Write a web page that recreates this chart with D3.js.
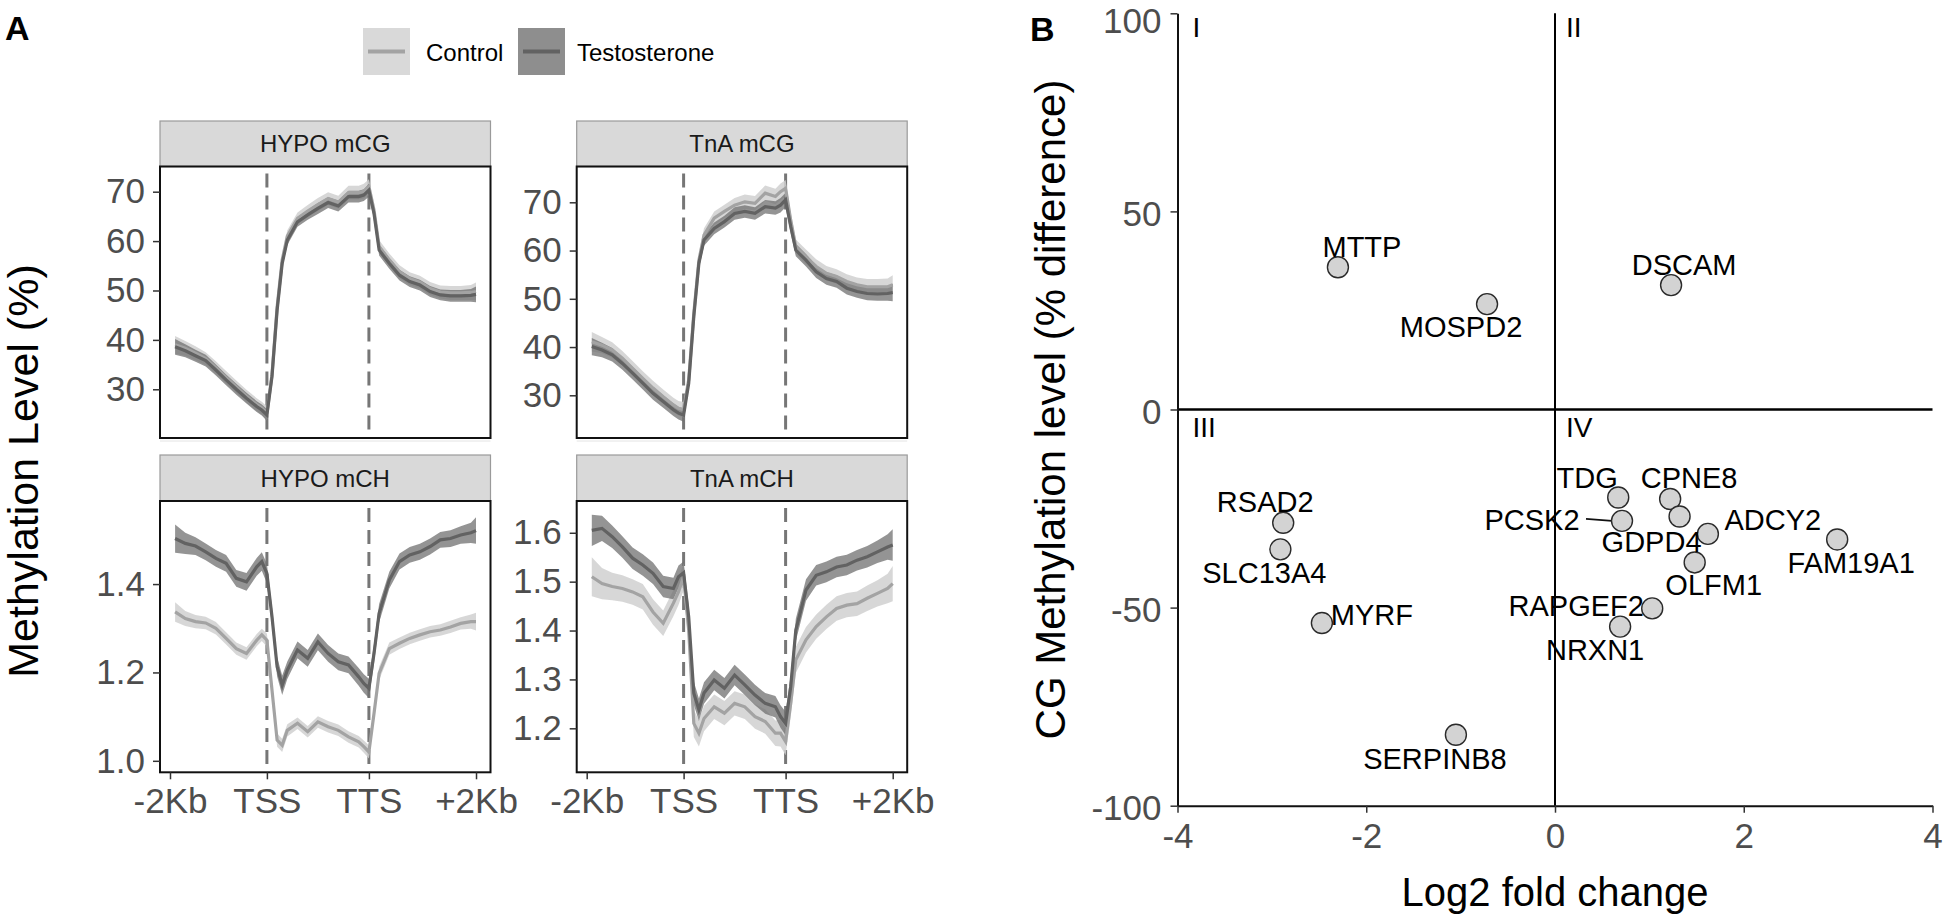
<!DOCTYPE html>
<html><head><meta charset="utf-8">
<script src="https://cdn.jsdelivr.net/npm/d3@7"></script>
<style>
body{margin:0;background:#fff;}
svg{display:block;}
text{font-family:"Liberation Sans",Arial,Helvetica,sans-serif;}
</style>
</head><body>
<svg id="chart" width="1946" height="918"></svg>
<script>
// ---------------- DATA: panel A (metaplots) ----------------
const seriesNames = ["Control", "Testosterone"];
const facetNames = ["HYPO mCG", "TnA mCG", "HYPO mCH", "TnA mCH"];
const binPositions = [2,4,6,8,10,12,14,16,18,19,20,21,22,23,24,26,28,30,32,34,36,38,39,40,41,42,44,46,48,50,52,54,56,58,60,61];
const xTickBins = [1, 20, 40, 61];
const xTickLabels = ["-2Kb", "TSS", "TTS", "+2Kb"];
const boundaryBins = [20, 40];
const cgTicks = [30, 40, 50, 60, 70];
const hypoChTicks = [1.0, 1.2, 1.4];
const tnaChTicks = [1.2, 1.3, 1.4, 1.5, 1.6];

const hypoCG_control = [39.0,38.3,37.3,36.2,34.4,32.4,30.5,28.6,26.9,26.2,25.1,33.0,46.6,56.2,61.0,64.6,66.1,67.4,68.6,67.9,69.8,69.8,70.1,71.0,66.3,58.9,56.2,53.8,52.4,51.7,50.4,49.7,49.5,49.5,49.6,49.8];
const hypoCG_testosterone = [38.6,37.8,36.8,35.8,33.9,31.9,30.0,28.2,26.5,25.8,24.8,32.6,46.0,55.5,60.2,63.9,65.3,66.6,67.8,67.1,69.0,69.0,69.3,70.3,65.6,58.2,55.5,53.1,51.8,51.1,49.8,49.1,48.9,48.9,49.0,49.2];
const tnaCG_control = [41.1,40.4,39.4,37.7,35.6,33.5,31.5,29.7,28.0,27.3,27.0,33.2,47.0,58.0,63.2,66.7,68.1,69.4,70.1,69.8,71.9,71.2,72.2,72.9,66.3,60.8,58.7,56.7,55.3,54.6,53.6,52.9,52.5,52.5,52.5,52.9];
const tnaCG_testosterone = [40.1,39.4,38.4,36.6,34.6,32.5,30.4,28.7,27.0,26.3,25.9,32.5,46.3,57.4,62.2,64.6,66.0,67.7,68.1,67.7,69.1,68.8,69.4,70.5,65.0,60.1,58.0,55.6,54.2,53.6,52.2,51.5,51.1,51.0,51.1,51.3];
const hypoCH_control = [1.337,1.322,1.315,1.312,1.300,1.277,1.254,1.243,1.273,1.285,1.273,1.160,1.047,1.035,1.069,1.085,1.066,1.088,1.077,1.069,1.054,1.043,1.032,1.020,1.107,1.198,1.254,1.266,1.277,1.285,1.292,1.296,1.303,1.311,1.315,1.315];
const hypoCH_testosterone = [1.503,1.492,1.486,1.473,1.458,1.447,1.413,1.405,1.439,1.451,1.424,1.326,1.213,1.171,1.205,1.251,1.232,1.269,1.243,1.224,1.217,1.190,1.175,1.164,1.243,1.334,1.409,1.451,1.466,1.473,1.485,1.500,1.503,1.511,1.516,1.521];
const tnaCH_control = [1.510,1.496,1.490,1.486,1.479,1.469,1.438,1.415,1.456,1.479,1.510,1.401,1.210,1.190,1.220,1.244,1.231,1.251,1.244,1.224,1.214,1.190,1.190,1.173,1.251,1.340,1.381,1.408,1.428,1.445,1.452,1.455,1.466,1.476,1.486,1.496];
const tnaCH_testosterone = [1.605,1.609,1.592,1.571,1.548,1.534,1.517,1.490,1.486,1.510,1.518,1.428,1.272,1.238,1.272,1.299,1.282,1.309,1.289,1.268,1.251,1.244,1.224,1.210,1.285,1.401,1.483,1.513,1.520,1.530,1.534,1.544,1.551,1.561,1.571,1.575];

// ribbon half-widths (standard error)
const hypoCG_control_se = [1.8,1.5,1.4,1.3,1.3,1.3,1.3,1.3,1.3,1.3,1.4,1.3,1.2,1.2,1.2,1.2,1.2,1.3,1.3,1.3,1.4,1.4,1.5,1.5,1.4,1.3,1.3,1.3,1.3,1.3,1.3,1.3,1.4,1.4,1.5,1.8];
const hypoCG_testosterone_se = [1.6,1.3,1.2,1.2,1.1,1.1,1.1,1.1,1.1,1.1,1.2,1.1,1.0,1.0,1.0,1.0,1.0,1.1,1.1,1.1,1.2,1.2,1.2,1.3,1.2,1.1,1.1,1.1,1.1,1.1,1.1,1.1,1.2,1.2,1.3,1.6];
const tnaCG_control_se = [2.0,1.7,1.6,1.5,1.5,1.5,1.5,1.5,1.5,1.5,1.6,1.5,1.4,1.4,1.4,1.4,1.4,1.5,1.5,1.5,1.6,1.6,1.7,1.7,1.6,1.5,1.5,1.5,1.5,1.5,1.5,1.5,1.6,1.6,1.7,2.0];
const tnaCG_testosterone_se = [1.8,1.5,1.4,1.3,1.3,1.3,1.3,1.3,1.3,1.3,1.4,1.3,1.2,1.2,1.2,1.2,1.2,1.3,1.3,1.3,1.4,1.4,1.5,1.5,1.4,1.3,1.3,1.3,1.3,1.3,1.3,1.3,1.4,1.4,1.5,1.8];
const hypoCH_control_se = [0.022,0.017,0.015,0.014,0.014,0.014,0.014,0.014,0.014,0.014,0.015,0.015,0.015,0.015,0.014,0.013,0.013,0.013,0.013,0.013,0.013,0.013,0.014,0.015,0.015,0.015,0.014,0.013,0.013,0.013,0.013,0.013,0.014,0.014,0.016,0.020];
const hypoCH_testosterone_se = [0.032,0.024,0.020,0.019,0.019,0.019,0.019,0.020,0.020,0.021,0.022,0.022,0.022,0.022,0.020,0.019,0.019,0.019,0.019,0.019,0.019,0.020,0.021,0.022,0.022,0.021,0.019,0.018,0.018,0.018,0.018,0.018,0.019,0.020,0.023,0.030];
const tnaCH_control_se = [0.040,0.032,0.028,0.027,0.026,0.026,0.026,0.026,0.027,0.027,0.028,0.028,0.028,0.027,0.026,0.025,0.025,0.025,0.025,0.025,0.025,0.026,0.027,0.028,0.028,0.027,0.026,0.025,0.025,0.025,0.025,0.025,0.026,0.027,0.030,0.036];
const tnaCH_testosterone_se = [0.032,0.026,0.023,0.022,0.022,0.022,0.022,0.022,0.022,0.023,0.023,0.024,0.024,0.023,0.022,0.021,0.021,0.021,0.021,0.021,0.021,0.022,0.023,0.024,0.024,0.023,0.022,0.021,0.021,0.021,0.021,0.021,0.022,0.023,0.026,0.032];

// ---------------- DATA: panel B (scatter) ----------------
const genes = ["MTTP","MOSPD2","DSCAM","RSAD2","SLC13A4","MYRF","SERPINB8","TDG","PCSK2","CPNE8","GDPD4","ADCY2","OLFM1","FAM19A1","RAPGEF2","NRXN1"];
const log2FC = [-2.30,-0.72,1.23,-2.88,-2.91,-2.47,-1.05,0.67,0.71,1.22,1.32,1.62,1.48,2.99,1.03,0.69];
const cgDiff = [35.9,26.6,31.4,-28.6,-35.3,-53.9,-82.1,-22.2,-28.1,-22.6,-27.0,-31.4,-38.6,-32.8,-50.2,-54.8];
const quadrantNames = ["I","II","III","IV"];
const xTicksB = [-4,-2,0,2,4];
const yTicksB = [-100,-50,0,50,100];

// ---------------- LAYOUT / STYLE ----------------
const svg = d3.select("#chart");
const COL = {ctrlBand:"#d0d0d0", ctrlLine:"#a3a3a3", testBand:"#707070", testLine:"#626262", tick:"#4d4d4d"};

const facets = [
  {name:facetNames[0], ctrl:hypoCG_control, test:hypoCG_testosterone, seC:hypoCG_control_se, seT:hypoCG_testosterone_se, ticks:cgTicks, fmt:d3.format("d"),
   left:160, top:166.5, bottom:438, stripTop:121, yDomain:[20.14,75.1], xAxis:false},
  {name:facetNames[1], ctrl:tnaCG_control, test:tnaCG_testosterone, seC:tnaCG_control_se, seT:tnaCG_testosterone_se, ticks:cgTicks, fmt:d3.format("d"),
   left:576.7, top:166.5, bottom:438, stripTop:121, yDomain:[21.15,77.42], xAxis:false},
  {name:facetNames[2], ctrl:hypoCH_control, test:hypoCH_testosterone, seC:hypoCH_control_se, seT:hypoCH_testosterone_se, ticks:hypoChTicks, fmt:d3.format(".1f"),
   left:160, top:501, bottom:772.3, stripTop:455, yDomain:[0.974,1.588], xAxis:true},
  {name:facetNames[3], ctrl:tnaCH_control, test:tnaCH_testosterone, seC:tnaCH_control_se, seT:tnaCH_testosterone_se, ticks:tnaChTicks, fmt:d3.format(".1f"),
   left:576.7, top:501, bottom:772.3, stripTop:455, yDomain:[1.110,1.665], xAxis:true}
];
const PW = 330.5;

const defs = svg.append("defs");

facets.forEach((f, fi) => {
  const x = d3.scaleLinear().domain([-0.96, 63.84]).range([f.left, f.left + PW]);
  const y = d3.scaleLinear().domain(f.yDomain).range([f.bottom, f.top]);
  const g = svg.append("g");
  const clipId = "clip" + fi;
  defs.append("clipPath").attr("id", clipId).append("rect")
    .attr("x", f.left).attr("y", f.top).attr("width", PW).attr("height", f.bottom - f.top);

  // strip
  g.append("rect").attr("x", f.left).attr("y", f.stripTop).attr("width", PW).attr("height", f.top - f.stripTop)
    .attr("fill", "#d9d9d9").attr("stroke", "#9a9a9a").attr("stroke-width", 1.2);
  g.append("text").attr("x", f.left + PW / 2).attr("y", (f.stripTop + f.top) / 2 + 8.5)
    .attr("text-anchor", "middle").attr("font-size", 24).attr("fill", "#1a1a1a").text(f.name);

  if (!f.xAxis) {
    g.append("line").attr("x1", f.left).attr("x2", f.left + PW).attr("y1", f.bottom + 3).attr("y2", f.bottom + 3)
      .attr("stroke", "#e4e4e4").attr("stroke-width", 1);
  }

  const inner = g.append("g").attr("clip-path", `url(#${clipId})`);
  // dashed boundaries
  boundaryBins.forEach(b => {
    inner.append("line").attr("x1", x(b)).attr("x2", x(b)).attr("y1", f.top + 7).attr("y2", f.bottom)
      .attr("stroke", "#767676").attr("stroke-width", 3).attr("stroke-dasharray", "14,8");
  });

  const idx = d3.range(binPositions.length);
  const band = (vals, se) => d3.area().x(i => x(binPositions[i])).y0(i => y(vals[i] - se[i])).y1(i => y(vals[i] + se[i]))(idx);
  const line = (vals) => d3.line().x(i => x(binPositions[i])).y(i => y(vals[i]))(idx);

  inner.append("path").attr("d", band(f.ctrl, f.seC)).attr("fill", COL.ctrlBand).attr("opacity", 0.85);
  inner.append("path").attr("d", band(f.test, f.seT)).attr("fill", COL.testBand).attr("opacity", 0.75);
  inner.append("path").attr("d", line(f.ctrl)).attr("fill", "none").attr("stroke", COL.ctrlLine).attr("stroke-width", 3.2);
  inner.append("path").attr("d", line(f.test)).attr("fill", "none").attr("stroke", COL.testLine).attr("stroke-width", 3.2);

  // border
  g.append("rect").attr("x", f.left).attr("y", f.top).attr("width", PW).attr("height", f.bottom - f.top)
    .attr("fill", "none").attr("stroke", "#111").attr("stroke-width", 2);

  // y axis
  const ya = g.append("g").attr("transform", `translate(${f.left},0)`)
    .call(d3.axisLeft(y).tickValues(f.ticks).tickFormat(f.fmt).tickSize(7).tickPadding(8).tickSizeOuter(0));
  ya.select(".domain").remove();
  ya.selectAll(".tick line").attr("stroke", "#333").attr("stroke-width", 1.5);
  ya.selectAll(".tick text").attr("font-size", 35).attr("fill", COL.tick).attr("font-family", "Liberation Sans, Arial, sans-serif");

  if (f.xAxis) {
    const xa = g.append("g").attr("transform", `translate(0,${f.bottom})`)
      .call(d3.axisBottom(x).tickValues(xTickBins).tickFormat((d, i) => xTickLabels[i]).tickSize(7).tickPadding(9).tickSizeOuter(0));
    xa.select(".domain").remove();
    xa.selectAll(".tick line").attr("stroke", "#333").attr("stroke-width", 1.5);
    xa.selectAll(".tick text").attr("font-size", 35).attr("fill", COL.tick).attr("font-family", "Liberation Sans, Arial, sans-serif");
  }
});

// y title panel A
svg.append("text").attr("transform", "translate(38,471) rotate(-90)").attr("text-anchor", "middle")
  .attr("font-size", 43).attr("fill", "#000").text("Methylation Level (%)");

// legend
const legend = [
  {name: seriesNames[0], x: 363, band: "#d9d9d9", line: COL.ctrlLine, tx: 426},
  {name: seriesNames[1], x: 518, band: "#8e8e8e", line: COL.testLine, tx: 577}
];
legend.forEach(l => {
  svg.append("rect").attr("x", l.x).attr("y", 28).attr("width", 47).attr("height", 47).attr("fill", l.band);
  svg.append("line").attr("x1", l.x + 5).attr("x2", l.x + 42).attr("y1", 51.5).attr("y2", 51.5).attr("stroke", l.line).attr("stroke-width", 4);
  svg.append("text").attr("x", l.tx).attr("y", 61).attr("font-size", 24).attr("fill", "#000").text(l.name);
});

// panel letters
svg.append("text").attr("x", 5).attr("y", 40).attr("font-size", 34).attr("font-weight", "bold").text("A");
svg.append("text").attr("x", 1030).attr("y", 41).attr("font-size", 34).attr("font-weight", "bold").text("B");

// ---------------- Panel B ----------------
const xB = d3.scaleLinear().domain([-4, 4]).range([1177.5, 1932.5]);
const yB = d3.scaleLinear().domain([-100, 100]).range([805.7, 13.3]);
const gB = svg.append("g");

// reference lines
gB.append("line").attr("x1", xB(-4)).attr("x2", xB(4)).attr("y1", yB(0)).attr("y2", yB(0)).attr("stroke", "#000").attr("stroke-width", 2.5);
gB.append("line").attr("x1", xB(0)).attr("x2", xB(0)).attr("y1", yB(-100)).attr("y2", yB(100)).attr("stroke", "#000").attr("stroke-width", 2);

const yaB = gB.append("g").attr("transform", `translate(${xB(-4)},0)`)
  .call(d3.axisLeft(yB).tickValues(yTicksB).tickFormat(d => String(d)).tickSize(7).tickPadding(9).tickSizeOuter(0));
const xaB = gB.append("g").attr("transform", `translate(0,${yB(-100)})`)
  .call(d3.axisBottom(xB).tickValues(xTicksB).tickFormat(d => String(d)).tickSize(7).tickPadding(10).tickSizeOuter(0));
[yaB, xaB].forEach(a => {
  a.select(".domain").attr("stroke", "#111").attr("stroke-width", 2);
  a.selectAll(".tick line").attr("stroke", "#333").attr("stroke-width", 1.5);
  a.selectAll(".tick text").attr("font-size", 35).attr("fill", COL.tick).attr("font-family", "Liberation Sans, Arial, sans-serif");
});
// labels sit a little below their ticks; the top one is kept inside the canvas
yaB.selectAll(".tick text").attr("y", d => d === 100 ? 7.5 : 3);

// quadrant labels
const quadPos = [{x: xB(-4) + 15, y: yB(100) + 24}, {x: xB(0) + 11, y: yB(100) + 24},
                 {x: xB(-4) + 15, y: yB(0) + 27}, {x: xB(0) + 11, y: yB(0) + 27}];
quadrantNames.forEach((q, i) => {
  gB.append("text").attr("x", quadPos[i].x).attr("y", quadPos[i].y).attr("font-size", 28).attr("fill", "#000").text(q);
});

// label offsets (px) relative to each point: [dx to label centre, dy to baseline]
const labelOffsets = [[24,-10],[-26,33],[13,-10],[-18,-11],[-16,34],[50,2],[-21,34],[-31,-9],[-90,9],[19,-11],[-28,36],[65,-4],[19,33],[14,34],[-76,8],[-25,33]];

// PCSK2 connector
const pi = genes.indexOf("PCSK2");
gB.append("line").attr("x1", xB(log2FC[pi]) - 36).attr("y1", yB(cgDiff[pi]) - 2)
  .attr("x2", xB(log2FC[pi]) - 10).attr("y2", yB(cgDiff[pi])).attr("stroke", "#111").attr("stroke-width", 1.6);

gB.selectAll("circle.pt").data(genes).enter().append("circle").attr("class", "pt")
  .attr("cx", (d, i) => xB(log2FC[i])).attr("cy", (d, i) => yB(cgDiff[i])).attr("r", 10.5)
  .attr("fill", "#d3d3d3").attr("stroke", "#2a2a2a").attr("stroke-width", 1.4);

gB.selectAll("text.lab").data(genes).enter().append("text").attr("class", "lab")
  .attr("x", (d, i) => xB(log2FC[i]) + labelOffsets[i][0]).attr("y", (d, i) => yB(cgDiff[i]) + labelOffsets[i][1])
  .attr("text-anchor", "middle").attr("font-size", 29).attr("fill", "#000").text(d => d);

// axis titles
svg.append("text").attr("transform", `translate(1065,${(yB(100) + yB(-100)) / 2}) rotate(-90)`).attr("text-anchor", "middle")
  .attr("font-size", 42).attr("fill", "#000").text("CG Methylation level (% difference)");
svg.append("text").attr("x", (xB(-4) + xB(4)) / 2).attr("y", 906).attr("text-anchor", "middle")
  .attr("font-size", 40).attr("fill", "#000").text("Log2 fold change");
</script>
</body></html>
